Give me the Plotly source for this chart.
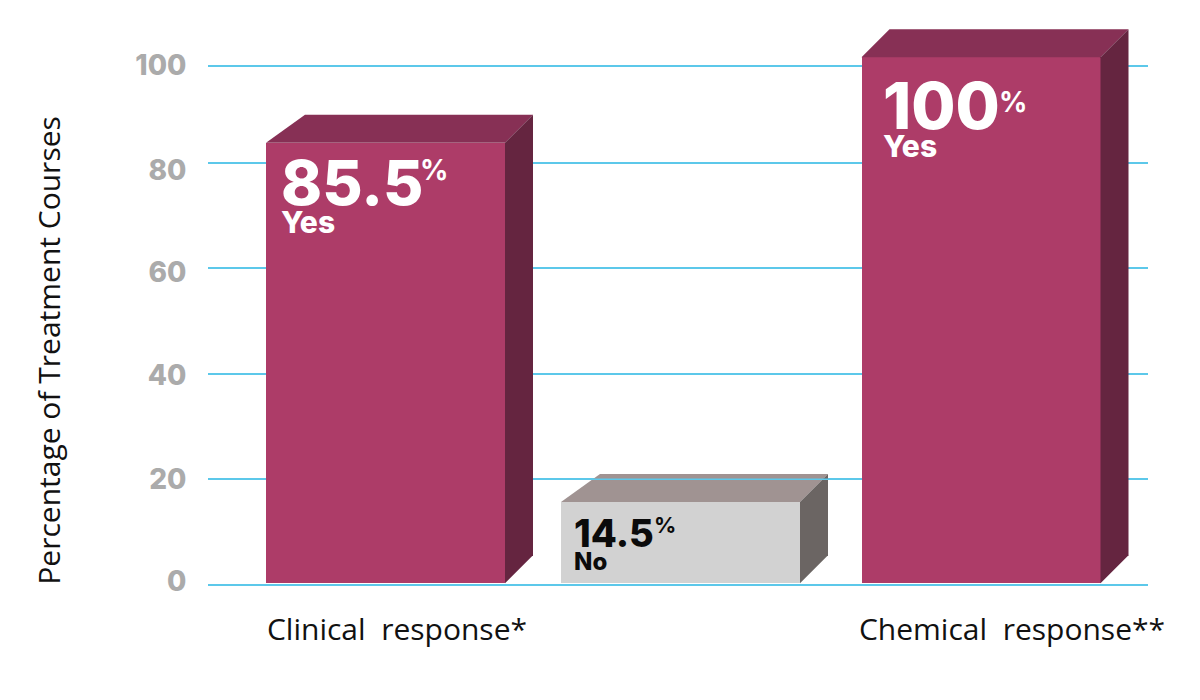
"""Treatment response bars, drawn as 3D blocks from scatter faces."""

import plotly.graph_objects as go

# data
bar_labels = ["85.5", "14.5", "100"]
bar_words = ["Yes", "No", "Yes"]
bar_values = [83.8, 15.7, 100.0]
bar_centers = [385.5, 680.5, 981.0]
top_skew = [39, 39, 28]
front_colors = ["#AD3C68", "#D2D2D2", "#AD3C68"]
top_colors = ["#873055", "#A09392", "#873055"]
side_colors = ["#652540", "#6B6563", "#652540"]
text_colors = ["#FFFFFF", "#0B0B0B", "#FFFFFF"]

grid_vals = [0, 20, 40, 60, 80, 98.4]
tick_vals = [0.6, 20.0, 39.8, 59.3, 78.6, 98.4]
tick_text = ["0", "20", "40", "60", "80", "100"]
category_vals = [397, 1012]
category_text = ["Clinical\u00a0 response*", "Chemical\u00a0 response**"]

# label placement: x in plot pixels, y in axis units
num_x = [279, 572, 880.5]
num_y = [76.3, 9.8, 90.9]
num_size = [62, 38, 64]
pct_x = [418, 652, 997]
pct_y = [78.7, 11.4, 91.6]
pct_size = [28, 22, 28]
word_x = [279, 572, 880.5]
word_y = [68.8, 4.4, 83.2]
word_size = [30, 24, 30]

# layout constants, x axis units are pixels of the plot
BAR_W = 239
DEPTH_X = 28
PX_PER_Y = 5.275
DEPTH_Y = 28 / PX_PER_Y
BASE = 0.3
GRID = "#5CC8EA"
GRID_W = 1.5

fig = go.Figure()

fig.add_trace(go.Bar(
    x=bar_centers, y=[v - BASE for v in bar_values], base=BASE, width=BAR_W,
    marker=dict(color=front_colors, line=dict(width=0)), showlegend=False,
))

for cx, val, skew, top_c, side_c in zip(bar_centers, bar_values, top_skew, top_colors, side_colors):
    left, right = cx - BAR_W / 2, cx + BAR_W / 2
    fig.add_trace(go.Scatter(
        x=[left, left + skew, right + DEPTH_X, right, left],
        y=[val, val + DEPTH_Y, val + DEPTH_Y, val, val],
        mode="lines", fill="toself", fillcolor=top_c, line=dict(width=0), showlegend=False,
    ))
    fig.add_trace(go.Scatter(
        x=[right, right + DEPTH_X, right + DEPTH_X, right, right],
        y=[val, val + DEPTH_Y, BASE + DEPTH_Y, BASE, val],
        mode="lines", fill="toself", fillcolor=side_c, line=dict(width=0), showlegend=False,
    ))

# the 20 line runs over the grey block, the others stay behind the bars
fig.add_trace(go.Scatter(
    x=[bar_centers[1] - BAR_W / 2, bar_centers[1] + BAR_W / 2 + DEPTH_X], y=[grid_vals[1], grid_vals[1]],
    mode="lines", line=dict(color=GRID, width=GRID_W), showlegend=False,
))

for i, color in enumerate(text_colors):
    fig.add_annotation(x=num_x[i], y=num_y[i], text=bar_labels[i], xanchor="left", yanchor="middle", showarrow=False,
                       font=dict(family="Inter", size=num_size[i], weight=800, color=color))
    fig.add_annotation(x=pct_x[i], y=pct_y[i], text="%", xanchor="left", yanchor="middle", showarrow=False,
                       font=dict(family="Inter", size=pct_size[i], weight=700, color=color))
    fig.add_annotation(x=word_x[i], y=word_y[i], text=bar_words[i], xanchor="left", yanchor="middle", showarrow=False,
                       font=dict(family="Inter", size=word_size[i], weight=800, color=color))

fig.add_annotation(x=-0.17, y=44.4, xref="paper", yref="y", text="Percentage of Treatment Courses", textangle=-90,
                   xanchor="center", yanchor="middle", showarrow=False,
                   font=dict(family="Open Sans", size=30, color="#111111"))

# the page keeps an 8px body margin, so the figure is 8px smaller and starts there
# the axis starts just under 0 so the 0 line is not dropped at the edge
fig.update_layout(
    width=1192, height=692, autosize=False,
    margin=dict(l=200, r=52, t=2, b=110),
    paper_bgcolor="white", plot_bgcolor="white",
    bargap=0,
    xaxis=dict(
        range=[208, 1148], showgrid=False, zeroline=False, showline=False,
        tickvals=category_vals, ticktext=category_text, ticks="outside", ticklen=13, tickcolor="rgba(0,0,0,0)",
        tickfont=dict(family="Open Sans", size=30, color="#111111"),
    ),
    yaxis=dict(
        range=[-1, 108.95], showgrid=False, zeroline=False, showline=False,
        tickvals=tick_vals, ticktext=tick_text, ticks="outside", ticklen=15, tickcolor="rgba(0,0,0,0)",
        tickfont=dict(family="Inter", size=28, weight=800, color="#ABABAB"),
        minor=dict(tickvals=grid_vals, showgrid=True, gridcolor=GRID, gridwidth=GRID_W, ticks=""),
    ),
)

fig.write_html("out.html")
